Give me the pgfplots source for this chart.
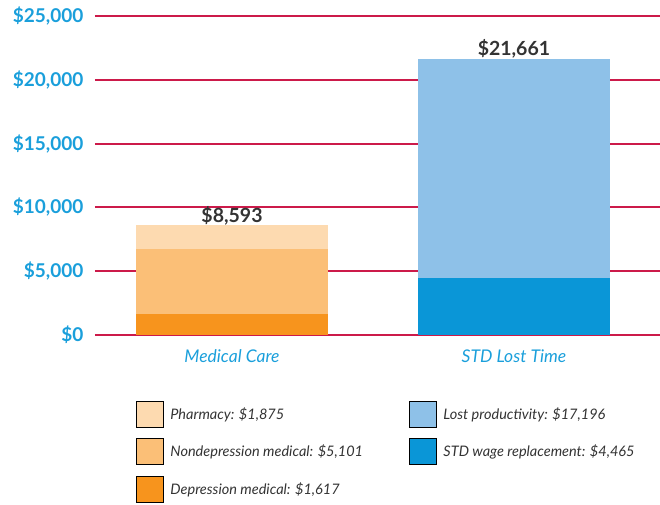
\documentclass[border=0pt]{standalone}
\usepackage{pgfplots}
\pgfplotsset{compat=1.18}
\usepackage{fontspec}
\setmainfont{Lato}

\definecolor{gridred}{HTML}{CC1A4A}
\definecolor{ticblue}{HTML}{1A9FDB}
\definecolor{txtgray}{HTML}{333333}
\definecolor{depmed}{HTML}{F7941D}
\definecolor{nondep}{HTML}{FBBF77}
\definecolor{pharm}{HTML}{FDDAB0}
\definecolor{stdwage}{HTML}{0A96D7}
\definecolor{lostprod}{HTML}{8EC1E8}

\pgfplotsset{
    common/.style={
        scale only axis,
        width=565pt, height=319pt,
        xmin=-0.486, xmax=1.518,
        ymin=0, ymax=25000,
    },
}

\begin{document}
\begin{tikzpicture}
\useasboundingbox (-95pt,-169pt) rectangle (565pt,335pt);
\begin{axis}[
    common,
    ybar stacked,
    bar width=192pt,
    ytick={0,5000,...,25000},
    xtick=data,
    xticklabels={Medical Care, STD Lost Time},
    xticklabel style={font=\fontsize{17.5}{20}\selectfont\itshape, text=ticblue, yshift=-11pt},
    yticklabel={\$\pgfmathprintnumber{\tick}},
    scaled y ticks=false,
    /pgf/number format/.cd, 1000 sep={,}, assume math mode=true, /pgfplots/.cd,
    yticklabel style={font=\fontsize{19}{22}\selectfont\bfseries, text=ticblue, xshift=-8pt},
    major tick length=0pt,
    tick style={draw=none},
    axis line style={draw=none},
    ymajorgrids=true,
    major grid style={draw=gridred, line width=2pt},
    legend columns=2,
    legend cell align=left,
    legend image code/.code={\fill[#1] (0pt,-13pt) rectangle (27pt,13pt);},
    legend style={
        at={(rel axis cs:0.0726,-0.2069)}, anchor=north west,
        draw=none, fill=none, inner sep=0pt, outer sep=0pt,
        row sep=11pt, column sep=0pt,
        font=\fontsize{14.5}{17}\selectfont\itshape, text=txtgray,
        nodes={inner sep=0pt},
        /tikz/column 1/.style={column sep=7pt},
        /tikz/column 2/.style={column sep=46pt},
        /tikz/column 3/.style={column sep=7pt},
    },
]
\addplot[fill=depmed, draw=none, forget plot] coordinates {(0,1617) (1,0)};
\addplot[fill=nondep, draw=none, forget plot] coordinates {(0,5101) (1,0)};
\addplot[fill=pharm, draw=none, forget plot] coordinates {(0,1875) (1,0)};
\addplot[fill=stdwage, draw=none, forget plot] coordinates {(0,0) (1,4465)};
\addplot[fill=lostprod, draw=none, forget plot] coordinates {(0,0) (1,17196)};
\addlegendimage{fill=pharm}
\addlegendentry{Pharmacy: \$1,875}
\addlegendimage{fill=lostprod}
\addlegendentry{Lost productivity: \$17,196}
\addlegendimage{fill=nondep}
\addlegendentry{Nondepression medical: \$5,101}
\addlegendimage{fill=stdwage}
\addlegendentry{STD wage replacement: \$4,465}
\addlegendimage{fill=depmed}
\addlegendentry{Depression medical: \$1,617}
\end{axis}
\begin{axis}[
    common,
    hide axis,
    point meta=explicit symbolic,
    nodes near coords,
    every node near coord/.append style={font=\fontsize{19.5}{22}\selectfont\bfseries, text=txtgray, anchor=south, yshift=-3pt},
]
\addplot[draw=none, mark=none] coordinates {(0,8593)[\$8,593] (1,21661)[\$21,661]};
\end{axis}
\end{tikzpicture}
\end{document}
